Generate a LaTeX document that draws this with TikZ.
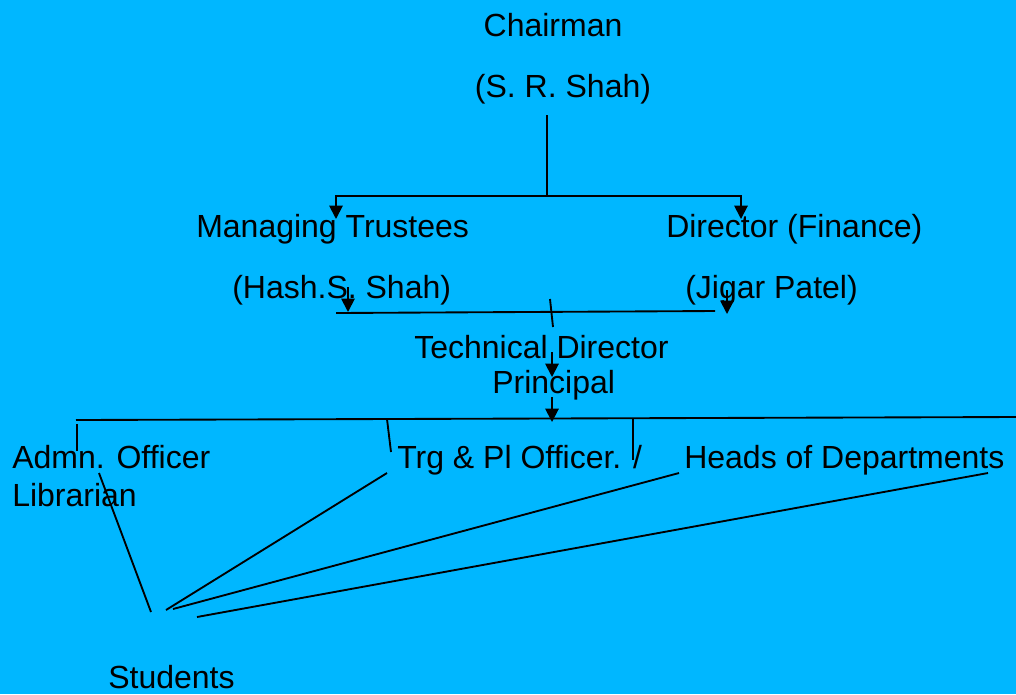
\documentclass[tikz,border=0pt]{standalone}
\usepackage{fontspec}
\setmainfont{Liberation Sans}
\usetikzlibrary{arrows.meta}
\definecolor{orgBlue}{RGB}{0,183,255}
\definecolor{orgInk}{RGB}{0,0,0}

\begin{document}
\begin{tikzpicture}[x=0.75pt,y=-0.75pt,
  lbl/.style={anchor=base west,inner sep=0pt,text=orgInk,font=\fontsize{24}{28}\selectfont},
  link/.style={orgInk,line width=1.4pt},
  arr/.style={link,-{Triangle[width=10pt,length=10pt]}}]
\fill[orgBlue] (0,0) rectangle (1016,694);
\useasboundingbox (0,0) rectangle (1016,694);
% names
\node[lbl,anchor=base] (chair) at (553,36) {Chairman};
\node[lbl,anchor=base] (chairname) at (563,97) {(S. R. Shah)};
\node[lbl] (mt) at (196,237) {Managing Trustees};
\node[lbl] (df) at (666,237) {Director (Finance)};
\node[lbl] (mtname) at (232,298) {(Hash.S. Shah)};
\node[lbl] (dfname) at (685,298) {(Jigar Patel)};
\node[lbl] (td) at (414,358) {Technical Director};
\node[lbl] (prin) at (492,393) {Principal};
\node[lbl] (adm) at (12,468) {Admn. Officer};
\node[lbl] (lib) at (12,506) {Librarian};
\node[lbl] (trg) at (397,468) {Trg \& Pl Officer. /};
\node[lbl] (hod) at (684,468) {Heads of Departments};
\node[lbl] (stud) at (108,688) {Students};
% connector ends
\coordinate (chairfoot) at (547,115);
\coordinate (split) at (547,196);
\coordinate (mtin) at (336,219);
\coordinate (dfin) at (741,219);
\coordinate (mtout) at (348,287);
\coordinate (mtdown) at (348,312);
\coordinate (dfout) at (727,290);
\coordinate (dfdown) at (727,314);
\coordinate (joinl) at (336,313);
\coordinate (joinr) at (715,311);
\coordinate (jointop) at (550,299);
\coordinate (joinbot) at (553,327);
\coordinate (tdout) at (552,352);
\coordinate (tdin) at (552,377);
\coordinate (prout) at (552,397);
\coordinate (prin) at (552,422);
\coordinate (busl) at (76,420);
\coordinate (busr) at (1016,417);
\coordinate (admtop) at (77,424);
\coordinate (admbot) at (77,451);
\coordinate (trgtop) at (387,419);
\coordinate (trgbot) at (391,452);
\coordinate (hodtop) at (633,418);
\coordinate (hodbot) at (633,460);
\coordinate (adms) at (99,473);
\coordinate (trgs) at (387,473);
\coordinate (hods) at (679,473);
\coordinate (hodr) at (988,473);
\coordinate (st1) at (151,612);
\coordinate (st2) at (166,610);
\coordinate (st3) at (173,609);
\coordinate (st4) at (197,617);
% lines
\draw[link] (chairfoot) -- (split);
\draw[arr] (split) -| (mtin);
\draw[arr] (split) -| (dfin);
\draw[arr] (mtout) -- (mtdown);
\draw[arr] (dfout) -- (dfdown);
\draw[link] (joinl) -- (joinr);
\draw[link] (jointop) -- (joinbot);
\draw[arr] (tdout) -- (tdin);
\draw[arr] (prout) -- (prin);
\draw[link] (busl) -- (busr);
\draw[link] (admtop) -- (admbot);
\draw[link] (trgtop) -- (trgbot);
\draw[link] (hodtop) -- (hodbot);
\foreach \s/\e in {adms/st1,trgs/st2,hods/st3,hodr/st4}
{
\draw[link] (\s) -- (\e);
}
\end{tikzpicture}
\end{document}
